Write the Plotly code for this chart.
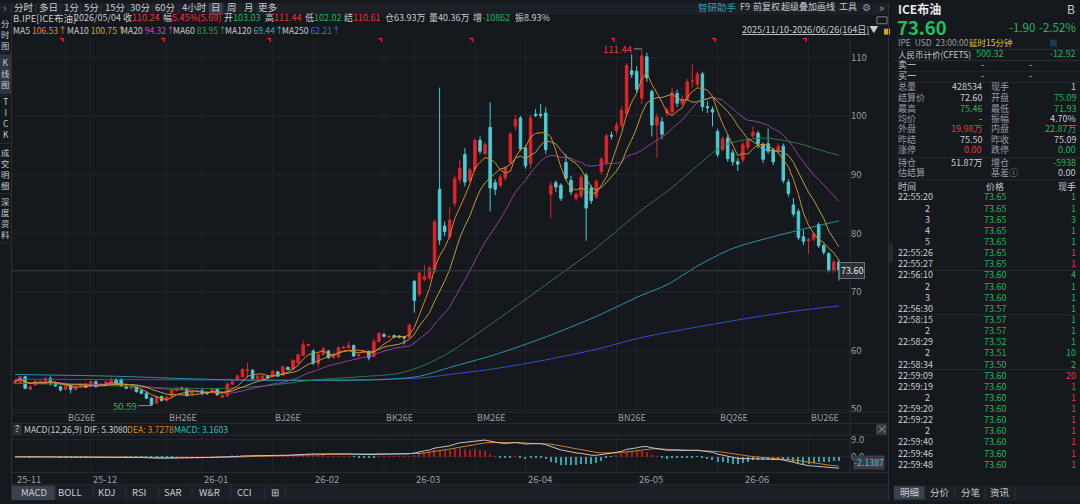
import numpy as np
import pandas as pd
import plotly.graph_objects as go

W, H = 1080, 504
FONT = "Noto Sans CJK SC"

BG = "#15181d"
BAR_BG = "#1c1f25"
GRID = "#21252b"
SEP = "#2a2e35"
GRAY = "#9a9ea5"
LIGHT = "#c9ccd1"
RED = "#e0232a"
CYAN = "#4acdd2"
TXT_RED = "#e5393f"
TXT_GREEN = "#23b45a"

# ---------------- data ----------------
trade_days = pd.bdate_range("2025-11-10", "2026-06-26").drop(pd.Timestamp("2025-12-25"))

opens = [54.39, 54.55, 55.51, 53.37, 54.11, 54.67, 54.67, 55.23, 54.50, 53.82,
         53.37, 54.11, 53.37, 53.82, 54.22, 53.94, 54.67, 54.05, 54.11, 54.27,
         55.06, 55.06, 53.94, 53.54, 53.82, 53.15, 52.70, 51.86, 51.01, 52.14,
         51.46, 52.14, 53.15, 53.60, 53.54, 52.53, 52.98, 53.15, 52.87, 52.81,
         53.37, 52.03, 52.25, 54.27, 55.06, 55.51, 56.60, 56.64, 55.23, 55.12,
         55.62, 55.62, 56.35, 55.79, 57.08, 56.80, 57.87, 59.16, 60.85, 59.89,
         57.76, 59.33, 59.89, 58.77, 58.88, 60.40, 60.45, 60.85, 59.11, 59.67,
         59.84, 58.99, 61.52, 62.70, 62.25, 62.53, 62.42, 62.36, 62.25, 71.80,
         69.60, 72.08, 72.36, 73.44, 87.50, 81.22, 79.39, 85.11, 89.17, 93.44,
         89.00, 90.94, 95.83, 93.61, 98.06, 88.61, 88.17, 89.39, 92.06, 98.28,
         99.67, 94.56, 91.94, 100.28, 100.28, 100.50, 86.61, 88.61, 88.17, 92.06,
         89.00, 85.94, 86.33, 89.83, 87.72, 86.22, 90.50, 92.06, 96.70, 97.50,
         98.44, 100.39, 107.72, 107.61, 103.03, 110.10, 104.17, 98.44, 99.00, 100.50,
         100.67, 103.83, 102.17, 102.89, 105.90, 105.39, 107.17, 101.60, 101.11, 97.33,
         94.28, 96.22, 93.72, 92.22, 92.50, 94.67, 96.61, 97.06, 95.11, 95.28,
         94.28, 94.00, 94.83, 88.72, 84.83, 83.72, 79.39, 78.70, 79.00, 81.50,
         77.89, 76.50, 73.61, 75.09]
highs = [55.00, 55.70, 55.70, 54.00, 55.00, 55.00, 55.50, 55.60, 54.70, 54.00,
         54.40, 54.30, 54.00, 54.40, 54.40, 54.90, 54.90, 54.40, 54.80, 55.40,
         55.30, 55.30, 54.10, 54.20, 54.00, 53.30, 52.90, 52.00, 52.30, 52.30,
         52.20, 53.40, 53.70, 53.80, 53.70, 53.30, 53.30, 53.40, 53.00, 53.60,
         53.60, 52.40, 54.50, 54.80, 55.80, 57.00, 57.87, 56.80, 55.80, 55.90,
         55.80, 56.60, 56.50, 57.40, 57.30, 58.50, 59.50, 61.70, 61.20, 60.20,
         59.50, 60.60, 60.10, 59.60, 60.70, 60.70, 61.50, 61.00, 59.40, 60.00,
         60.00, 62.00, 63.10, 63.00, 62.60, 62.70, 62.60, 62.50, 64.50, 72.00,
         73.50, 74.60, 74.30, 82.30, 104.83, 82.00, 84.50, 89.80, 92.50, 94.50,
         91.20, 96.20, 96.50, 95.50, 102.33, 89.20, 90.00, 91.50, 97.20, 100.20,
         100.00, 95.00, 100.20, 101.20, 102.05, 101.50, 88.80, 89.00, 88.50, 93.50,
         89.80, 87.00, 90.00, 90.30, 88.20, 89.20, 93.00, 97.00, 97.30, 99.00,
         101.60, 109.00, 110.50, 108.50, 111.44, 110.80, 104.50, 100.50, 99.80, 101.50,
         104.80, 104.50, 103.50, 106.30, 108.80, 107.60, 107.50, 102.50, 101.60, 97.80,
         96.50, 96.80, 94.30, 92.80, 95.50, 96.20, 98.20, 97.50, 95.50, 97.90,
         94.60, 95.30, 95.30, 89.20, 86.00, 84.20, 80.50, 79.20, 80.20, 81.80,
         78.20, 76.80, 75.50, 75.46]
lows = [54.20, 54.40, 53.40, 53.20, 54.00, 54.40, 54.50, 54.00, 53.80, 53.00,
        53.20, 52.70, 53.20, 53.70, 53.60, 53.80, 53.70, 53.90, 54.00, 54.10,
        54.10, 53.80, 53.40, 53.30, 52.80, 52.50, 51.70, 50.59, 50.90, 51.30,
        51.30, 52.00, 53.00, 53.30, 52.10, 52.40, 52.70, 52.30, 52.40, 52.70,
        52.30, 51.90, 52.10, 54.10, 54.90, 55.40, 55.23, 55.00, 55.10, 55.00,
        55.20, 55.50, 55.50, 55.60, 56.60, 56.60, 57.70, 59.00, 60.70, 57.50,
        57.20, 59.10, 58.60, 58.60, 58.70, 60.30, 60.30, 58.90, 58.80, 59.50,
        58.30, 58.80, 61.30, 62.20, 62.10, 62.10, 62.10, 61.00, 62.10, 66.46,
        69.20, 71.80, 72.00, 73.20, 78.00, 79.50, 79.00, 84.50, 88.50, 88.00,
        88.70, 90.50, 93.50, 93.30, 83.72, 86.50, 87.80, 89.00, 91.70, 97.50,
        94.00, 91.00, 91.00, 99.80, 99.60, 93.50, 82.60, 87.00, 85.50, 89.00,
        86.50, 85.50, 86.00, 78.72, 85.00, 85.80, 90.00, 91.50, 96.00, 96.80,
        98.00, 100.00, 106.50, 104.00, 102.02, 105.80, 96.50, 92.90, 96.00, 100.00,
        100.20, 101.50, 101.80, 102.50, 104.80, 104.90, 100.80, 100.50, 98.20, 93.00,
        94.00, 92.20, 91.50, 90.60, 92.00, 94.20, 96.20, 94.50, 92.00, 93.50,
        91.60, 93.50, 88.50, 86.20, 82.80, 78.80, 78.00, 76.50, 78.60, 77.50,
        76.30, 73.30, 73.20, 71.93]
closes = [54.78, 55.51, 53.54, 53.82, 54.78, 54.70, 55.23, 54.39, 53.94, 53.26,
          54.22, 53.37, 53.82, 54.22, 53.71, 54.67, 53.82, 54.22, 54.67, 55.06,
          54.27, 53.94, 53.54, 53.94, 52.98, 52.70, 51.86, 50.74, 52.14, 51.46,
          52.03, 53.26, 53.54, 53.43, 52.31, 53.09, 53.00, 52.70, 52.70, 53.37,
          52.42, 52.31, 54.27, 54.67, 55.68, 56.75, 56.68, 55.23, 55.62, 55.62,
          55.34, 56.46, 55.62, 57.20, 56.75, 58.32, 59.27, 60.96, 61.02, 57.87,
          59.33, 60.29, 58.77, 59.44, 60.45, 60.57, 60.85, 59.05, 59.27, 59.84,
          58.77, 61.52, 62.93, 62.42, 62.42, 62.25, 62.25, 62.14, 64.33, 68.54,
          73.20, 72.64, 74.05, 81.94, 78.83, 80.28, 82.22, 89.28, 91.11, 88.72,
          90.78, 95.83, 94.00, 95.11, 87.72, 87.50, 89.56, 91.22, 96.94, 99.39,
          94.39, 91.50, 99.67, 100.11, 100.11, 94.28, 88.17, 87.89, 85.94, 89.39,
          87.06, 86.61, 89.56, 84.28, 85.56, 88.83, 92.61, 96.61, 96.55, 98.44,
          100.94, 108.61, 107.06, 104.55, 110.24, 106.50, 98.44, 99.83, 96.89, 101.06,
          104.00, 102.17, 102.89, 105.78, 105.95, 107.17, 101.61, 101.40, 100.67, 93.44,
          96.11, 92.72, 92.17, 91.78, 95.11, 95.78, 97.22, 95.28, 92.61, 94.00,
          92.17, 94.83, 89.00, 86.78, 83.28, 79.28, 78.61, 78.90, 79.83, 77.89,
          76.78, 73.61, 75.09, 73.60]

# long moving averages (history before the window is not shown)
ma60_idx = [0, 15, 30, 40, 50, 59, 68, 76, 81, 86, 95, 105, 115, 124, 130, 135, 140, 145, 149, 155, 160, 163]
ma60_val = [54.4, 54.1, 53.6, 53.5, 54.0, 54.95, 55.5, 56.1, 57.5, 59.7, 65.0, 71.2, 77.5, 83.95,
            87.8, 91.5, 94.9, 96.0, 96.2, 95.3, 94.0, 93.3]
ma120_idx = [0, 20, 33, 46, 60, 72, 80, 86, 95, 105, 115, 124, 129, 135, 142, 150, 155, 160, 163]
ma120_val = [55.9, 55.6, 55.2, 54.95, 54.9, 55.0, 55.6, 57.1, 59.3, 62.3, 65.8, 69.44, 71.2, 74.4,
             77.4, 79.4, 80.5, 81.5, 82.1]
ma250_idx = [0, 30, 60, 80, 86, 95, 105, 115, 124, 135, 145, 155, 163]
ma250_val = [55.1, 55.0, 54.95, 55.3, 55.9, 56.9, 58.4, 60.2, 62.21, 64.0, 65.5, 66.8, 67.6]

contract_codes = ["BG26E", "BH26E", "BJ26E", "BK26E", "BM26E", "BN26E", "BQ26E", "BU26E"]
contract_idx = [10, 30, 51, 73, 91, 119, 139, 157]

price_ticks = [50, 60, 70, 80, 90, 100, 110]
last_price = 73.60
high_idx, high_val = 124, 111.44
low_idx, low_val = 27, 50.59

tick_times = ["22:55:20", "2", "3", "4", "5", "22:55:26", "22:55:27", "22:56:10", "2", "3",
              "22:56:30", "22:58:15", "2", "22:58:29", "2", "22:58:34", "22:59:09", "22:59:19",
              "2", "22:59:20", "22:59:22", "2", "22:59:40", "22:59:46", "22:59:48"]
tick_prices = ["73.65"] * 7 + ["73.60"] * 3 + ["73.57"] * 3 + ["73.52", "73.51", "73.50"] + ["73.60"] * 9
tick_qty = [1, 1, 3, 1, 1, 1, 1, 4, 1, 1, 1, 1, 1, 1, 10, 2, 20, 1, 1, 1, 1, 1, 1, 1, 1]
tick_up = [False] * 5 + [True] * 2 + [False] * 9 + [True] * 9

# ---------------- derived series ----------------
idx = np.arange(len(closes))
cs = pd.Series(closes)
ma5 = cs.rolling(5, min_periods=1).mean()
ma10 = cs.rolling(10, min_periods=1).mean()
ma20 = cs.rolling(20, min_periods=1).mean()
dif = cs.ewm(span=12, adjust=False).mean() - cs.ewm(span=26, adjust=False).mean()
dea = dif.ewm(span=9, adjust=False).mean()
hist = 2 * (dif - dea)

month_pos, month_txt = [], []
for i, d in enumerate(trade_days):
    if i == 0 or d.month != trade_days[i - 1].month:
        month_pos.append(i)
        month_txt.append(d.strftime("%y-%m"))


def px(x):
    return x / W


def py(y):
    return 1 - y / H


fig = go.Figure()

fig.add_trace(go.Candlestick(
    x=idx, open=opens, high=highs, low=lows, close=closes,
    increasing=dict(line=dict(color=RED, width=1), fillcolor=RED),
    decreasing=dict(line=dict(color=CYAN, width=1), fillcolor=CYAN),
    whiskerwidth=0, hoverinfo="skip", showlegend=False))

for xs, ys, col, smooth in [
        (ma250_idx, ma250_val, "#3550c8", True),
        (ma120_idx, ma120_val, "#2e93a0", True),
        (ma60_idx, ma60_val, "#2d7a47", True),
        (idx, ma20, "#93409a", False),
        (idx, ma10, "#b59d45", False),
        (idx, ma5, "#d8882c", False)]:
    line = dict(color=col, width=1)
    if smooth:
        line.update(shape="spline", smoothing=0.8)
    fig.add_trace(go.Scatter(x=xs, y=ys, mode="lines", line=line, hoverinfo="skip", showlegend=False))

# MACD panel
fig.add_trace(go.Bar(x=idx, y=hist, width=0.22,
                     marker=dict(color=["#a81c22" if v >= 0 else "#33a4a8" for v in hist], line=dict(width=0)),
                     xaxis="x2", yaxis="y2", hoverinfo="skip", showlegend=False))
fig.add_trace(go.Scatter(x=idx, y=dea, mode="lines", line=dict(color="#c9812c", width=1),
                         xaxis="x2", yaxis="y2", hoverinfo="skip", showlegend=False))
fig.add_trace(go.Scatter(x=idx, y=dif, mode="lines", line=dict(color="#c3c5c9", width=1),
                         xaxis="x2", yaxis="y2", hoverinfo="skip", showlegend=False))

shapes = []
annos = []


def rect(x0, y0, x1, y1, fill, line=None):
    shapes.append(dict(type="rect", xref="paper", yref="paper", x0=px(x0), x1=px(x1), y0=py(y1), y1=py(y0),
                       fillcolor=fill, line=dict(width=1 if line else 0, color=line or fill), layer="below"))


def hl(x0, x1, y, color=SEP):
    shapes.append(dict(type="line", xref="paper", yref="paper", x0=px(x0), x1=px(x1), y0=py(y), y1=py(y),
                       line=dict(color=color, width=1)))


def vl(x, y0, y1, color=SEP):
    shapes.append(dict(type="line", xref="paper", yref="paper", x0=px(x), x1=px(x), y0=py(y0), y1=py(y1),
                       line=dict(color=color, width=1)))


def txt(x, y, s, color=GRAY, size=10, xa="left", bold=False, bg=None):
    if bold:
        s = "<b>" + s + "</b>"
    a = dict(xref="paper", yref="paper", x=px(x), y=py(y), text=s, showarrow=False, xanchor=xa,
             yanchor="middle", font=dict(family=FONT, size=size, color=color), borderpad=0)
    if bg:
        a["bgcolor"] = bg
    annos.append(a)


def sp(s, c):
    return '<span style="color:%s">%s</span>' % (c, s)


# toolbar
rect(0, 0, 888, 12, BAR_BG)
rect(209, 0, 223, 12, "#3b414c")
txt(4.5, 4.5, "›", GRAY, 11, "center")
tb_items = ["分时", "多日", "1分", "5分", "15分", "30分", "60分", "4小时", "日", "周", "月", "更多"]
tb_x = [24, 48, 71, 91, 115, 140, 165.5, 194, 216, 232, 249, 267]
for s, x in zip(tb_items, tb_x):
    txt(x, 4, s, LIGHT, 9.5, "center")
for x in [11.5, 36, 60, 81, 101, 128, 153, 179, 209, 223, 240, 257, 278]:
    vl(x, 1, 11, "#2c3038")
txt(717, 4, "智研助手", "#2f9fb0", 9.5, "center")
for s, x in [("F9", 745), ("前复权", 766), ("超级叠加", 798.5), ("画线", 826.5), ("工具", 848)]:
    txt(x, 4, s, LIGHT, 9, "center")
txt(866, 4, "⚙", GRAY, 10, "center")
txt(881, 4, "»", GRAY, 11, "center")
rect(877, 14, 887, 21, BG, "#7d8188")
txt(810, 27, "<u>2025/11/10-2026/06/26(164日)</u>▼", LIGHT, 9, "center")
rect(884, 26, 890, 32, "#d8a21c")

# left side bar: each tab as one vertical block of characters
vl(11.5, 12, 504, SEP)
rect(0, 52, 11, 92, "#30353e")
for y in [49, 94, 142, 193, 243]:
    hl(0, 11, y)
for word, yc in [("分时图", 31.5), ("K线图", 70.5), ("TICK", 116), ("成交明细", 167.5), ("深度资料", 217.5)]:
    txt(5.8, yc, "<br>".join(word), LIGHT, 8.4, "center")

# info lines
IY = 15
txt(12, IY, "B.IPE[ICE布油]", LIGHT, 9.5)
txt(73, IY, "2026/05/04", LIGHT, 9)
txt(122, IY, "收" + sp("110.24", TXT_RED), LIGHT, 9)
txt(162, IY, "幅" + sp("5.45%(5.69)", TXT_RED), LIGHT, 9)
txt(223, IY, "开" + sp("103.03", TXT_GREEN), LIGHT, 9)
txt(264, IY, "高" + sp("111.44", TXT_RED), LIGHT, 9)
txt(304, IY, "低" + sp("102.02", TXT_GREEN), LIGHT, 9)
txt(343, IY, "结" + sp("110.61", TXT_RED), LIGHT, 9)
txt(384, IY, "仓63.93万", LIGHT, 9)
txt(428, IY, "量40.36万", LIGHT, 9)
txt(472, IY, "增" + sp("-10862", TXT_GREEN), LIGHT, 9)
txt(514, IY, "振8.93%", LIGHT, 9)
for lab, val, col, x in [("MA5", "106.53", "#e08a2a", 12), ("MA10", "100.75", "#c9a93a", 66),
                         ("MA20", "94.32", "#c050c0", 120), ("MA60", "83.95", "#2ea050", 172),
                         ("MA120", "69.44", "#35b3bd", 224), ("MA250", "62.21", "#4068e0", 281)]:
    txt(x, 27, lab + " " + sp(val + "↑", col), LIGHT, 8.6)

# chart frame lines
for y in [414, 425.7, 437.3, 475, 487.5]:
    hl(12, 888, y)
vl(850, 35, 475)
vl(888.5, 0, 504, "#2c3038")

# vertical grid lines at month starts and contract changes
for i in sorted(set(month_pos[1:] + contract_idx)):
    shapes.append(dict(type="line", xref="x", yref="paper", x0=i, x1=i, y0=py(414), y1=py(35),
                       line=dict(color=GRID, width=1), layer="below"))
    shapes.append(dict(type="line", xref="x", yref="paper", x0=i, x1=i, y0=py(475), y1=py(437.3),
                       line=dict(color=GRID, width=1), layer="below"))

# contract codes and red markers
for code, i in zip(contract_codes, contract_idx):
    annos.append(dict(xref="x", yref="paper", x=i, y=py(419.5), text=code, showarrow=False, xanchor="left",
                      yanchor="middle", font=dict(family=FONT, size=9, color=GRAY)))
    shapes.append(dict(type="line", xref="x", yref="paper", x0=i - 1.1, x1=i - 0.35, y0=py(36), y1=py(36),
                       line=dict(color=RED, width=1.5)))
    shapes.append(dict(type="line", xref="x", yref="paper", x0=i - 0.5, x1=i - 0.5, y0=py(36), y1=py(39.5),
                       line=dict(color=RED, width=1.5)))

# month labels under MACD
for i, s in zip(month_pos, month_txt):
    annos.append(dict(xref="x2", yref="paper", x=i, y=py(481.5), text=s, showarrow=False, xanchor="left",
                      yanchor="middle", font=dict(family=FONT, size=9.5, color=GRAY)))

# last price line and tag
shapes.append(dict(type="line", xref="paper", yref="y", x0=px(12), x1=px(850), y0=last_price, y1=last_price,
                   line=dict(color="#3b3f46", width=1)))
annos.append(dict(xref="paper", yref="y", x=px(839), y=last_price, text="73.60", showarrow=False,
                  xanchor="left", font=dict(family=FONT, size=9, color="#e6e8ea"), bgcolor="#2c3037",
                  bordercolor="#6d7178", borderwidth=1, borderpad=1))

# max / min marks
annos.append(dict(xref="x", yref="y", x=high_idx, y=high_val, text="111.44", showarrow=True, arrowhead=0,
                  arrowcolor="#8a8e95", arrowwidth=1, ax=-8, ay=0, xanchor="right",
                  font=dict(family=FONT, size=9.5, color=TXT_RED)))
annos.append(dict(xref="x", yref="y", x=low_idx, y=low_val, text="50.59", showarrow=True, arrowhead=0,
                  arrowcolor="#8a8e95", arrowwidth=1, ax=-13, ay=0, xanchor="right",
                  font=dict(family=FONT, size=9.5, color=TXT_GREEN)))

# MACD header
rect(13, 427, 21.5, 437, "#30343b")
txt(17.3, 431, "?", LIGHT, 9, "center")
txt(23, 431, "MACD(12,26,9) DIF: 5.3080", LIGHT, 8.6)
txt(126, 431, "DEA: 3.7278", "#d8892b", 8.6)
txt(173, 431, "MACD: 3.1603", "#35b8c2", 8.6)
rect(877, 427, 886, 436, "#30343b", "#555a62")
txt(881.5, 430.5, "×", GRAY, 10, "center")
txt(853, 465.5, "-2.1387", "#45c4d0", 8.8, bg="#3a3f47")

# indicator tabs
rect(12, 488, 888, 504, BAR_BG)
rect(12, 488.5, 55, 503, "#3b414c")
for s, x in [("MACD", 33.5), ("BOLL", 70), ("KDJ", 106.5), ("RSI", 139), ("SAR", 172), ("W&R", 209),
             ("CCI", 244.5), ("⊞", 275)]:
    txt(x, 495, s, LIGHT, 9.5, "center")
for x in [55, 93, 126, 159, 192, 231, 265, 285]:
    vl(x, 489, 503, "#2c3038")

# right quote panel
txt(897, 5.5, "ICE布油", "#e8eaed", 12, bold=True)
txt(1076, 5.5, "B", LIGHT, 12, "right")
txt(896, 24, "73.60", "#1fc160", 18.5, bold=True)
txt(1036, 24, "-1.90", TXT_GREEN, 11.5, "right")
txt(1077, 24, "-2.52%", TXT_GREEN, 11.5, "right")
txt(897, 39.5, "IPE  USD  23:00:00", GRAY, 8.5)
txt(968, 39.5, "延时15分钟", "#e4c23a", 8.5)
rect(1050, 37, 1057, 44, "#1e3a48")
hl(893, 1080, 47)
txt(897, 51.5, "人民币计价(CFETS)", LIGHT, 8.5)
txt(975, 51.5, "500.32", TXT_GREEN, 9)
txt(1077, 51.5, "-12.92", TXT_GREEN, 9, "right")
hl(893, 1080, 58.3)
txt(897, 62.5, "卖一", LIGHT, 9)
txt(982, 62.5, "-", LIGHT, 9, "center")
txt(1030, 62.5, "-", LIGHT, 9, "center")
hl(893, 1080, 69.3, "#23272d")
txt(897, 73.5, "买一", LIGHT, 9)
txt(982, 73.5, "-", LIGHT, 9, "center")
txt(1030, 73.5, "-", LIGHT, 9, "center")
hl(893, 1080, 80)

quote_rows = [
    ("总量", "428534", LIGHT, "现手", "1", LIGHT),
    ("结算价", "72.60", LIGHT, "开盘", "75.09", TXT_GREEN),
    ("最高", "75.46", TXT_GREEN, "最低", "71.93", TXT_GREEN),
    ("均价", "-", LIGHT, "振幅", "4.70%", LIGHT),
    ("外盘", "19.98万", TXT_RED, "内盘", "22.87万", TXT_GREEN),
    ("昨结", "75.50", LIGHT, "昨收", "75.09", LIGHT),
    ("涨停", "0.00", TXT_RED, "跌停", "0.00", TXT_GREEN),
    ("持仓", "51.87万", LIGHT, "增仓", "-5938", TXT_GREEN),
    ("估结算", "", LIGHT, "基差ⓘ", "0.00", LIGHT),
]
row_y = [85, 95.7, 106.3, 117, 127.5, 138, 148.7, 161.3, 172]
for (l1, v1, c1, l2, v2, c2), y in zip(quote_rows, row_y):
    txt(897, y, l1, GRAY, 9)
    txt(983, y, v1, c1, 9, "right")
    txt(990, y, l2, GRAY, 9)
    txt(1077, y, v2, c2, 9, "right")
hl(893, 1080, 156.7)
hl(893, 1080, 179)

txt(897, 186, "时间", LIGHT, 9)
txt(995, 186, "价格", LIGHT, 9, "center")
txt(1077, 186, "现手", LIGHT, 9, "right")
for k, (t, p, q, up) in enumerate(zip(tick_times, tick_prices, tick_qty, tick_up)):
    y = 196.3 + 11.27 * k
    if ":" in t:
        txt(897, y, t, LIGHT, 9)
    else:
        txt(931, y, t, LIGHT, 9, "right")
    txt(995, y, p, TXT_GREEN, 9, "center")
    txt(1077, y, str(q), TXT_RED if up else TXT_GREEN, 9, "right")
for y in [270.7, 315.7, 371]:
    hl(895, 1080, y, "#262a31")
rect(889, 243, 893, 262, "#24282f")

rect(893, 488, 1080, 504, BAR_BG)
rect(894, 489, 924, 502.5, "#3b414c")
for s, x in [("明细", 909), ("分价", 940), ("分笔", 970), ("资讯", 1000)]:
    txt(x, 495, s, LIGHT, 9.5, "center")
for x in [924.5, 955, 985, 1015]:
    vl(x, 489, 503, "#2c3038")

fig.update_layout(
    width=W, height=H, margin=dict(l=0, r=0, t=0, b=0),
    paper_bgcolor=BG, plot_bgcolor=BG, showlegend=False, bargap=0,
    font=dict(family=FONT, size=10, color=GRAY),
    xaxis=dict(domain=[px(12), px(850)], range=[-0.6, 165.2], showticklabels=False, showgrid=False,
               zeroline=False, rangeslider=dict(visible=False), anchor="y", fixedrange=True),
    yaxis=dict(domain=[py(414), py(35)], range=[49.49, 113.37], side="right", tickvals=price_ticks,
               tickfont=dict(size=9.5, color=GRAY), gridcolor=GRID, zeroline=False, anchor="x", ticks=""),
    xaxis2=dict(domain=[px(12), px(850)], range=[-0.6, 165.2], showticklabels=False, showgrid=False,
                zeroline=False, anchor="y2", fixedrange=True),
    yaxis2=dict(domain=[py(475), py(437.3)], range=[-8.0, 11.25], side="right", tickvals=[0, 9],
                ticktext=["0.0", "9.0"], tickfont=dict(size=9.5, color=GRAY), gridcolor=GRID,
                zeroline=False, anchor="x2", ticks=""),
    shapes=shapes, annotations=annos,
)

# page margin off so the 1080x504 figure fills the window exactly
fig.write_html("out.html", config=dict(displayModeBar=False),
               post_script="document.body.style.margin='0';document.body.style.overflow='hidden';")
